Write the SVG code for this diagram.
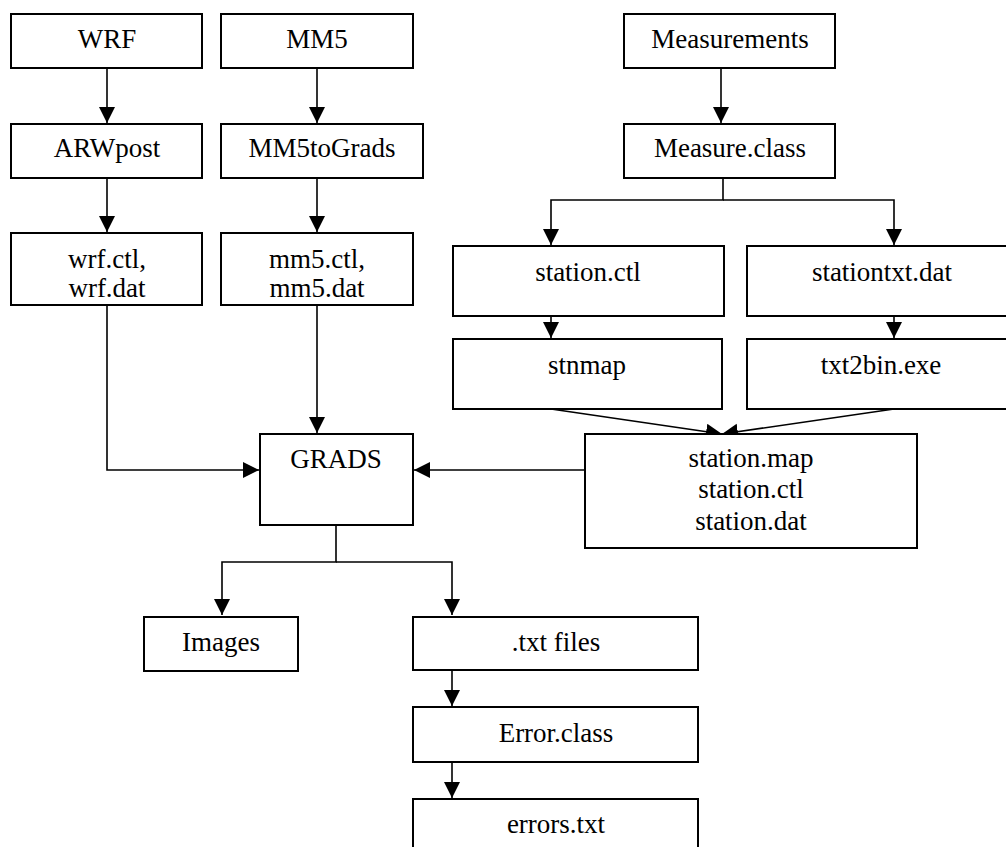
<svg xmlns="http://www.w3.org/2000/svg" width="1006" height="847" viewBox="0 0 1006 847">
<defs>
<style>
.box{fill:#fff;stroke:#000;stroke-width:2}
text{font-family:'Liberation Serif','DejaVu Serif',serif;font-size:27px;fill:#000;text-anchor:middle}
.c{fill:none;stroke:#000;stroke-width:1.6}
</style>
<marker id="ah" markerUnits="userSpaceOnUse" markerWidth="17" markerHeight="17" refX="16" refY="8" orient="auto" viewBox="0 0 17 17">
<path d="M0,0 L16,8 L0,16 z" fill="#000"/>
</marker>
</defs>
<rect width="1006" height="847" fill="#fff"/>
<g id="connectors">
<path class="c" d="M107,68 V123" marker-end="url(#ah)"/>
<path class="c" d="M317,68 V123" marker-end="url(#ah)"/>
<path class="c" d="M107,178 V232" marker-end="url(#ah)"/>
<path class="c" d="M317,178 V232" marker-end="url(#ah)"/>
<path class="c" d="M721,68 V123" marker-end="url(#ah)"/>
<path class="c" d="M723,178 V200 H551 V245" marker-end="url(#ah)"/>
<path class="c" d="M723,200 H894 V245" marker-end="url(#ah)"/>
<path class="c" d="M551,316 V338" marker-end="url(#ah)"/>
<path class="c" d="M894,316 V338" marker-end="url(#ah)"/>
<path class="c" d="M551,409 L722,434" marker-end="url(#ah)"/>
<path class="c" d="M894,409 L722,434" marker-end="url(#ah)"/>
<path class="c" d="M107,305 V470 H259" marker-end="url(#ah)"/>
<path class="c" d="M317,305 V433" marker-end="url(#ah)"/>
<path class="c" d="M585,470 H414" marker-end="url(#ah)"/>
<path class="c" d="M336,525 V562 H222 V615" marker-end="url(#ah)"/>
<path class="c" d="M336,562 H452 V615" marker-end="url(#ah)"/>
<path class="c" d="M452,670 V706" marker-end="url(#ah)"/>
<path class="c" d="M452,762 V798" marker-end="url(#ah)"/>
</g>
<g id="wrf"><rect class="box" x="11" y="14" width="191" height="54"/><text font-family="Liberation Serif" x="107" y="48">WRF</text></g>
<g id="mm5"><rect class="box" x="221" y="14" width="192" height="54"/><text x="317" y="48">MM5</text></g>
<g id="measurements"><rect class="box" x="624" y="14" width="211" height="54"/><text x="730" y="48">Measurements</text></g>
<g id="arwpost"><rect class="box" x="11" y="124" width="191" height="54"/><text x="107" y="157">ARWpost</text></g>
<g id="mm5tograds"><rect class="box" x="221" y="124" width="202" height="54"/><text x="322" y="157">MM5toGrads</text></g>
<g id="measureclass"><rect class="box" x="624" y="124" width="211" height="54"/><text x="730" y="157">Measure.class</text></g>
<g id="wrfctl"><rect class="box" x="11" y="233" width="191" height="72"/><text x="107" y="268">wrf.ctl,</text><text x="107" y="297">wrf.dat</text></g>
<g id="mm5ctl"><rect class="box" x="221" y="233" width="192" height="72"/><text x="317" y="268">mm5.ctl,</text><text x="317" y="297">mm5.dat</text></g>
<g id="stationctl"><rect class="box" x="453" y="246" width="271" height="70"/><text x="588" y="281">station.ctl</text></g>
<g id="stationtxt"><rect class="box" x="747" y="246" width="272" height="70"/><text x="882" y="281">stationtxt.dat</text></g>
<g id="stnmap"><rect class="box" x="453" y="339" width="269" height="70"/><text x="587" y="374">stnmap</text></g>
<g id="txt2bin"><rect class="box" x="747" y="339" width="272" height="70"/><text x="881" y="374">txt2bin.exe</text></g>
<g id="stationmap"><rect class="box" x="585" y="434" width="332" height="114"/><text x="751" y="467">station.map</text><text x="751" y="498">station.ctl</text><text x="751" y="530">station.dat</text></g>
<g id="grads"><rect class="box" x="260" y="434" width="153" height="91"/><text x="336" y="468">GRADS</text></g>
<g id="images"><rect class="box" x="144" y="617" width="154" height="54"/><text x="221" y="651">Images</text></g>
<g id="txtfiles"><rect class="box" x="413" y="617" width="285" height="53"/><text x="556" y="651">.txt files</text></g>
<g id="errorclass"><rect class="box" x="413" y="707" width="285" height="55"/><text x="556" y="742">Error.class</text></g>
<g id="errorstxt"><rect class="box" x="413" y="799" width="285" height="60"/><text x="556" y="833">errors.txt</text></g>
</svg>
